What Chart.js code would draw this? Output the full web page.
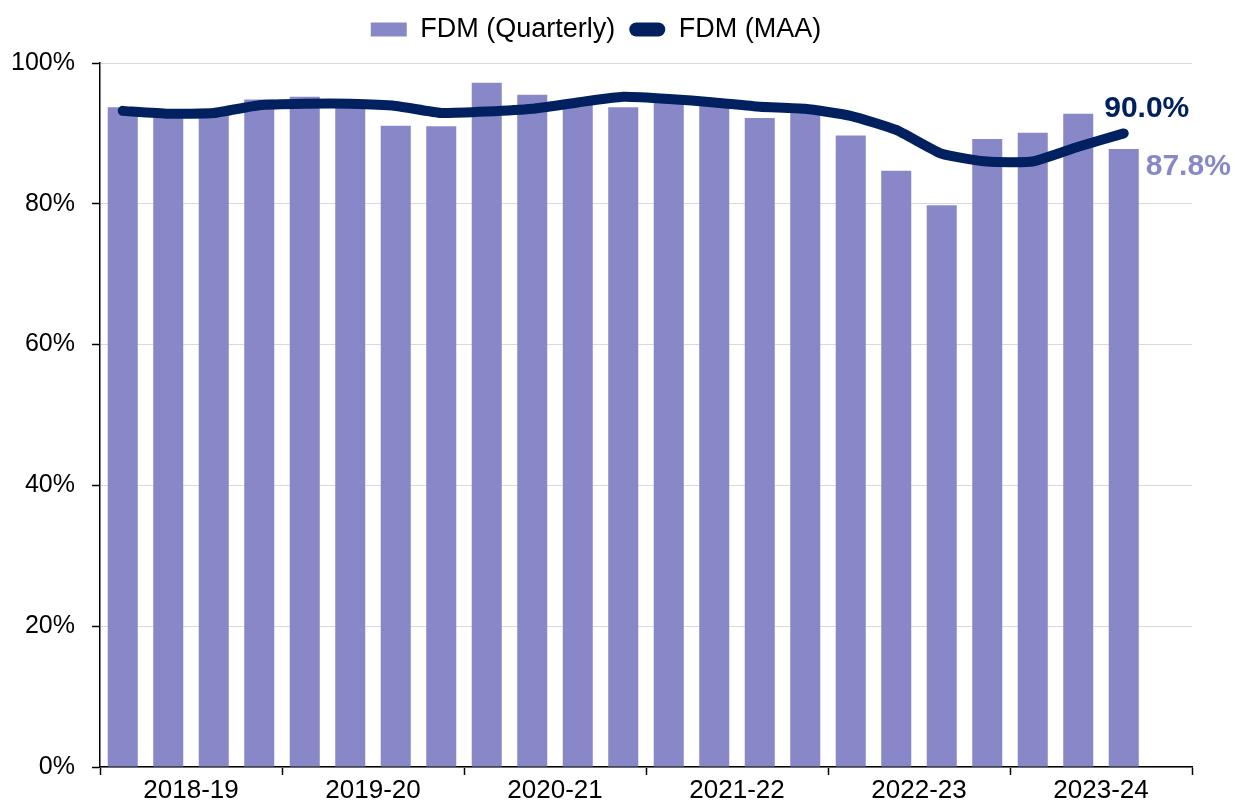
<!DOCTYPE html>
<html>
<head>
<meta charset="utf-8">
<script src="https://cdn.jsdelivr.net/npm/chart.js@4"></script>
<style>
  html, body { margin: 0; padding: 0; background: #fff; }
  #wrap { width: 1235px; height: 803px; }
</style>
</head>
<body>
<div id="wrap"><canvas id="fdm" width="1235" height="803"></canvas></div>
<script>
// financial years, four quarters each
const years = ['2018-19', '2019-20', '2020-21', '2021-22', '2022-23', '2023-24'];
const quarters = ['Q1', 'Q2', 'Q3', 'Q4'];

// FDM quarterly (%), last quarter of 2023-24 not reported yet
const fdmQuarterly = [93.7, 93.0, 93.0, 94.8, 95.2, 94.0, 91.1, 91.0,
                      97.2, 95.5, 94.3, 93.7, 94.8, 94.3, 92.2, 93.4,
                      89.7, 84.7, 79.8, 89.2, 90.1, 92.8, 87.8, null];
// FDM moving annual average (%)
const fdmMAA = [93.2, 92.8, 92.9, 94.0, 94.2, 94.2, 93.9, 92.9,
                93.1, 93.5, 94.4, 95.2, 94.9, 94.4, 93.8, 93.5,
                92.5, 90.5, 87.1, 86.0, 86.0, 88.1, 90.0, null];

const yTicks = [0, 20, 40, 60, 80, 100];

const barColour = '#8888c8';
const lineColour = '#002060';
const fontFamily = '"Liberation Sans", Arial, sans-serif';

const quarterLabels = [];
years.forEach(y => quarters.forEach(q => quarterLabels.push(y + ' ' + q)));

// writes the latest value of each series next to its last mark
const lastValueLabels = {
    id: 'lastValueLabels',
    afterDatasetsDraw(chart) {
        const ctx = chart.ctx;
        const xs = chart.scales.x;
        const ys = chart.scales.y;
        ctx.save();
        ctx.font = 'bold 30px ' + fontFamily;
        ctx.textAlign = 'center';
        ctx.textBaseline = 'middle';

        let i = lastIndex(fdmMAA);
        ctx.fillStyle = lineColour;
        ctx.fillText(fdmMAA[i].toFixed(1) + '%', xs.getPixelForValue(i) + 23, ys.getPixelForValue(fdmMAA[i]) - 25);

        i = lastIndex(fdmQuarterly);
        ctx.fillStyle = barColour;
        ctx.textAlign = 'left';
        ctx.fillText(fdmQuarterly[i].toFixed(1) + '%', xs.getPixelForValue(i) + 22, ys.getPixelForValue(fdmQuarterly[i]) + 18);
        ctx.restore();
    }
};

// a bit more room under the legend
const legendGap = {
    id: 'legendGap',
    beforeInit(chart) {
        const fit = chart.legend.fit;
        chart.legend.fit = function () {
            fit.call(this);
            this.height += 10;
        };
    }
};

function lastIndex(arr) {
    for (let i = arr.length - 1; i >= 0; i--) {
        if (arr[i] !== null) return i;
    }
    return 0;
}

Chart.defaults.font.family = fontFamily;
Chart.defaults.color = '#000';

new Chart(document.getElementById('fdm'), {
    type: 'bar',
    data: {
        labels: quarterLabels,
        datasets: [{
            label: 'FDM (Quarterly)',
            data: fdmQuarterly,
            backgroundColor: barColour,
            borderWidth: 0,
            barPercentage: 0.66,
            categoryPercentage: 1,
            order: 2
        }, {
            type: 'line',
            label: 'FDM (MAA)',
            data: fdmMAA,
            borderColor: lineColour,
            backgroundColor: lineColour,
            borderWidth: 10,
            borderCapStyle: 'round',
            borderJoinStyle: 'round',
            pointRadius: 0,
            tension: 0.15,
            order: 1
        }]
    },
    options: {
        responsive: false,
        animation: false,
        devicePixelRatio: 1,
        layout: { padding: { top: 2, right: 43, bottom: 0, left: 0 } },
        plugins: {
            tooltip: { enabled: false },
            legend: {
                position: 'top',
                labels: {
                    font: { size: 27 },
                    color: '#000',
                    boxWidth: 36,
                    boxHeight: 14,
                    padding: 14,
                    useBorderRadius: true,
                    generateLabels(chart) {
                        return chart.data.datasets.map((ds, i) => ({
                            text: ds.label,
                            fillStyle: ds.type === 'line' ? lineColour : barColour,
                            strokeStyle: ds.type === 'line' ? lineColour : barColour,
                            lineWidth: 0,
                            borderRadius: ds.type === 'line' ? 7 : 0,
                            fontColor: '#000',
                            datasetIndex: i
                        }));
                    }
                }
            }
        },
        scales: {
            x: {
                display: false,
                offset: true
            },
            x2: {
                type: 'category',
                position: 'bottom',
                labels: years,
                offset: true,
                grid: {
                    offset: true,
                    drawOnChartArea: false,
                    tickLength: 8,
                    tickColor: '#000',
                    tickWidth: 1.5
                },
                border: { display: true, color: '#000', width: 1.5 },
                ticks: { font: { size: 26 }, padding: 0, maxRotation: 0 },
                afterFit(scale) { scale.height = 36; }
            },
            y: {
                min: 0,
                max: 100,
                afterBuildTicks(scale) { scale.ticks = yTicks.map(v => ({ value: v })); },
                grid: {
                    color: '#d9d9d9',
                    lineWidth: 1,
                    tickLength: 8,
                    tickColor: '#000',
                    tickWidth: 1.5
                },
                border: { display: true, color: '#000', width: 1.5 },
                ticks: {
                    font: { size: 25 },
                    padding: 17,
                    callback: v => v + '%'
                },
                afterFit(scale) { scale.width = 100; }
            }
        }
    },
    plugins: [lastValueLabels, legendGap]
});
</script>
</body>
</html>
